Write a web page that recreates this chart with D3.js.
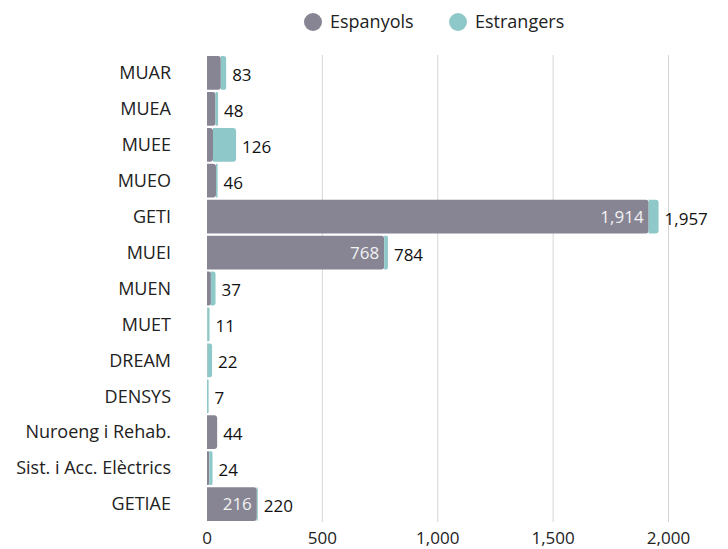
<!DOCTYPE html>
<html>
<head>
<meta charset="utf-8">
<script src="https://cdn.jsdelivr.net/npm/d3@7"></script>
<style>
  body { margin: 0; background: #fff; }
  svg { font-family: "Open Sans", sans-serif; }
</style>
</head>
<body>
<script>
const categories = ["MUAR", "MUEA", "MUEE", "MUEO", "GETI", "MUEI", "MUEN", "MUET", "DREAM", "DENSYS", "Nuroeng i Rehab.", "Sist. i Acc. Elèctrics", "GETIAE"];
const espanyols = [60, 37, 26, 39, 1914, 768, 17, 1, 2, 0, 44, 10, 216];
const estrangers = [23, 11, 100, 7, 43, 16, 20, 10, 20, 7, 0, 14, 4];
const seriesNames = ["Espanyols", "Estrangers"];
const colors = ["#878594", "#8fc8c8"];
const xTicks = [0, 500, 1000, 1500, 2000];

const width = 728, height = 549;
const margin = { top: 55, right: 59, bottom: 27, left: 207 };

const svg = d3.select("body").append("svg")
  .attr("width", width)
  .attr("height", height);

const x = d3.scaleLinear().domain([0, 2000]).range([margin.left, width - margin.right - 0.5]);
const y = d3.scaleBand().domain(categories).range([margin.top, height - margin.bottom]).paddingInner(0.06).paddingOuter(0.03);

const fmt = d3.format(",");

// gridlines
svg.append("g").selectAll("line")
  .data(xTicks.filter(d => d > 0))
  .join("line")
  .attr("x1", d => x(d)).attr("x2", d => x(d))
  .attr("y1", margin.top).attr("y2", height - margin.bottom)
  .attr("stroke", "#d6d6d6").attr("stroke-width", 1);

// x axis labels
svg.append("g").selectAll("text")
  .data(xTicks)
  .join("text")
  .attr("x", d => x(d))
  .attr("y", 544)
  .attr("text-anchor", "middle")
  .attr("font-size", 17)
  .attr("fill", "#222")
  .text(d => fmt(d));

// category labels
svg.append("g").selectAll("text")
  .data(categories)
  .join("text")
  .attr("x", 171)
  .attr("y", d => y(d) + y.bandwidth() / 2)
  .attr("dy", "0.35em")
  .attr("text-anchor", "end")
  .attr("font-size", 18)
  .attr("fill", "#222")
  .text(d => d);

function segPath(x0, x1, y0, h) {
  const w = x1 - x0;
  const r = Math.min(3, w / 2, h / 2);
  return `M${x0},${y0}H${x1 - r}Q${x1},${y0} ${x1},${y0 + r}V${y0 + h - r}Q${x1},${y0 + h} ${x1 - r},${y0 + h}H${x0}Z`;
}

const rows = categories.map((c, i) => ({ cat: c, a: espanyols[i], b: estrangers[i], total: espanyols[i] + estrangers[i] }));

const bars = svg.append("g");
rows.forEach(r => {
  const y0 = y(r.cat), h = y.bandwidth();
  if (r.a > 0) {
    bars.append("path").attr("d", segPath(x(0), x(r.a), y0, h)).attr("fill", colors[0]);
  }
  if (r.b > 0) {
    bars.append("path").attr("d", segPath(x(r.a), x(r.total), y0, h)).attr("fill", colors[1]);
  }
  // inside label for large Espanyols segment
  if (x(r.a) - x(0) > 40) {
    bars.append("text")
      .attr("x", x(r.a) - 5)
      .attr("y", y0 + h / 2)
      .attr("dy", "0.35em")
      .attr("text-anchor", "end")
      .attr("font-size", 17)
      .attr("fill", "#f2f2f2")
      .text(fmt(r.a));
  }
  bars.append("text")
    .attr("x", x(r.total) + 6)
    .attr("y", y0 + h / 2 + 2)
    .attr("dy", "0.35em")
    .attr("font-size", 17)
    .attr("fill", "#111")
    .text(fmt(r.total));
});

// legend
const legend = svg.append("g");
const legendX = [313, 458];
seriesNames.forEach((name, i) => {
  legend.append("circle").attr("cx", legendX[i]).attr("cy", 22).attr("r", 9).attr("fill", colors[i]);
  legend.append("text")
    .attr("x", legendX[i] + 17)
    .attr("y", 22)
    .attr("dy", "0.35em")
    .attr("font-size", 18)
    .attr("fill", "#222")
    .text(name);
});
</script>
</body>
</html>
